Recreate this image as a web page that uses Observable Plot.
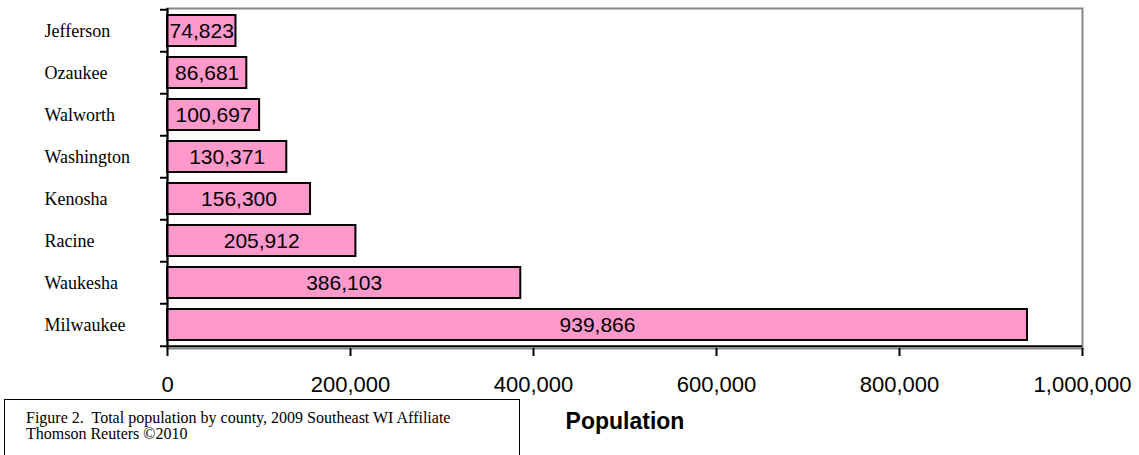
<!DOCTYPE html>
<html><head><meta charset="utf-8">
<script src="https://cdn.jsdelivr.net/npm/d3@7"></script>
<script src="https://cdn.jsdelivr.net/npm/@observablehq/plot@0.6"></script>
<style>
body{margin:0;background:#fff;}
#wrap{position:relative;width:1139px;height:455px;overflow:hidden;}
#cap{position:absolute;left:4px;top:399px;width:516px;height:80px;border:1.5px solid #000;box-sizing:border-box;font-family:"Liberation Serif","Times New Roman",serif;font-size:16px;line-height:16px;padding:10px 0 0 21px;color:#000;}
</style></head><body>
<div id="wrap"><div id="chart"></div><div id="cap"></div></div>
<script>
const counties = ["Jefferson","Ozaukee","Walworth","Washington","Kenosha","Racine","Waukesha","Milwaukee"];
const population = [74823, 86681, 100697, 130371, 156300, 205912, 386103, 939866];
const xTicks = [0, 200000, 400000, 600000, 800000, 1000000];
const xLabel = "Population";
const caption = ["Figure 2.\u00a0 Total population by county, 2009 Southeast WI Affiliate", "Thomson Reuters ©2010"];

const data = counties.map((c, i) => ({county: c, pop: population[i]}));
const W = 1139, H = 455, mL = 167, mR = 57, mT = 8, mB = 107;
const pi = 0.26, po = 0.13;
const step = (H - mT - mB) / (counties.length - pi + 2 * po);
const fmt = d3.format(",");

const chart = Plot.plot({
  width: W, height: H,
  marginLeft: mL, marginRight: mR, marginTop: mT, marginBottom: mB,
  style: {fontFamily: "'Liberation Sans', Arial, sans-serif", background: "#fff", color: "#000"},
  x: {domain: [0, 1000000]},
  y: {domain: counties, paddingInner: pi, paddingOuter: po},
  marks: [
    Plot.frame({stroke: "#888", strokeWidth: 2}),
    Plot.barX(data, {x: "pop", y: "county", fill: "#FF99CC", stroke: "#000", strokeWidth: 2}),
    Plot.text(data, {x: d => d.pop / 2, y: "county", text: d => fmt(d.pop), fontSize: 21, fill: "#000"}),
    Plot.ruleX([0], {stroke: "#000", strokeWidth: 2}),
    Plot.ruleY([counties[counties.length - 1]], {dy: step / 2, stroke: "#000", strokeWidth: 2}),
    Plot.axisY({tickSize: 0, tickPadding: 0, textAnchor: "start", dx: -(mL - 44), fontSize: 18, fontFamily: "'Liberation Serif', 'Times New Roman', serif", label: null}),
    Plot.axisY({tickSize: 7, tickFormat: () => "", dy: -step / 2, strokeWidth: 2, label: null}),
    Plot.axisY([counties[counties.length - 1]], {tickSize: 7, tickFormat: () => "", dy: step / 2, strokeWidth: 2, label: null}),
    Plot.axisX(xTicks, {tickFormat: fmt, tickSize: 8, tickPadding: 20, fontSize: 22, strokeWidth: 2, label: null}),
    Plot.text([xLabel], {frameAnchor: "bottom", dy: 80, fontWeight: "bold", fontSize: 23, fill: "#000"})
  ]
});
document.getElementById("chart").appendChild(chart);
document.getElementById("cap").innerHTML = caption.join("<br>");
</script>
</body></html>
